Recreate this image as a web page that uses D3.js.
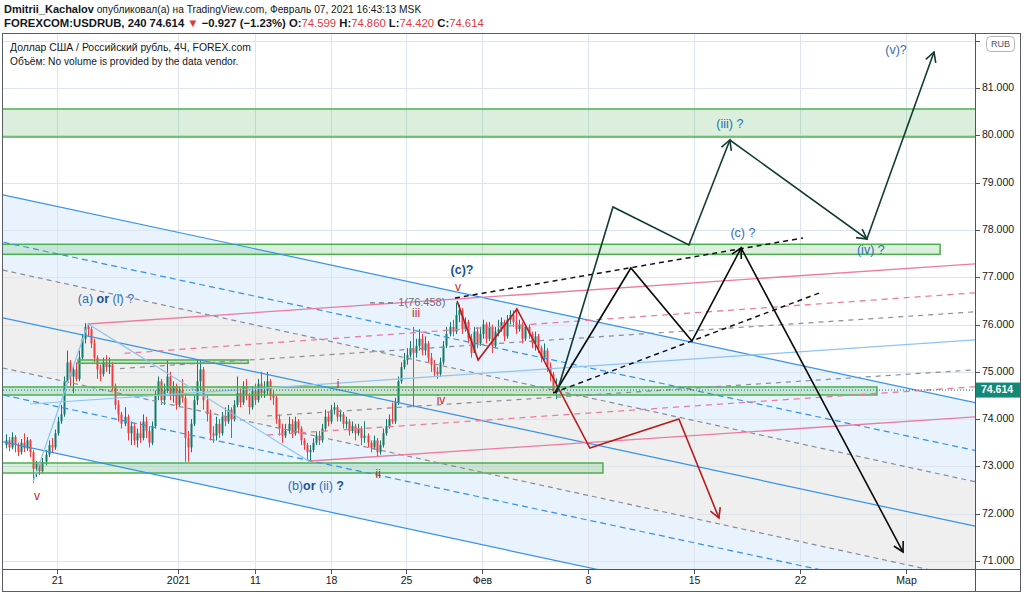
<!DOCTYPE html>
<html><head><meta charset="utf-8">
<script src="https://cdn.jsdelivr.net/npm/d3@7"></script>
<style>body{margin:0;background:#fff;overflow:hidden} svg{display:block}</style>
</head><body>
<svg id="c" width="1024" height="596"></svg>
<script>
// ---------------- DATA ----------------
// 4H candles (bar index 1..182), open of each bar = previous close
const firstOpen = 73.45;
const closes = [73.55,73.40,73.62,73.45,73.30,73.50,73.38,73.55,73.30,
72.95,73.05,72.90,
73.10,73.25,73.45,73.40,73.70,73.95,74.10,
74.80,75.20,
74.90,75.05,74.85,
75.30,75.70,75.95,75.90,
75.60,75.30,75.05,74.95,
75.20,75.10,75.15,
74.70,74.30,74.10,73.90,
74.05,73.70,73.85,73.55,73.70,73.60,73.95,73.75,73.50,73.85,
74.50,74.80,74.40,
74.60,74.90,74.50,74.70,74.30,74.60,74.45,
73.60,73.40,
73.90,74.40,74.80,75.05,
74.40,74.10,73.70,73.65,
73.90,73.70,74.05,73.95,74.20,74.00,
74.30,74.55,74.35,74.70,74.50,74.25,74.60,74.40,74.75,74.55,
74.60,74.80,74.50,74.45,
74.00,73.80,73.65,73.75,
73.90,73.70,73.95,73.80,73.55,73.45,73.30,
73.35,73.50,
73.65,73.55,73.80,74.05,73.95,74.20,74.25,
74.05,74.10,73.90,73.95,73.75,73.85,73.70,73.80,73.60,73.65,73.50,
73.40,73.55,73.30,73.45,
73.70,73.85,74.00,73.95,
74.35,74.80,75.10,75.25,75.35,
75.50,75.40,75.55,75.70,75.45,75.60,75.30,75.15,
75.00,74.95,75.20,
75.55,75.80,75.95,75.85,
76.20,76.30,
75.90,76.05,75.70,75.40,75.85,75.60,
75.80,76.00,75.70,75.95,75.55,75.85,75.90,76.05,75.75,76.10,76.20,76.05,75.90,76.00,75.70,75.95,75.80,75.60,75.75,75.50,
75.30,75.45,75.10,74.95,
74.60,74.614];
const highs = [73.68,73.62,73.72,73.66,73.50,73.58,73.70,73.62,73.58,
73.35,73.12,73.10,
73.18,73.35,73.55,73.60,73.78,74.05,74.30,
74.90,75.45,
75.25,75.15,75.20,
75.45,75.80,76.03,76.03,
75.95,75.70,75.35,75.15,
75.30,75.35,75.30,
75.20,74.75,74.40,74.15,
74.25,74.10,73.95,73.90,73.80,73.95,74.10,74.05,73.85,73.95,
74.60,74.90,74.85,
74.75,75.25,75.00,74.80,74.75,74.70,74.85,
74.55,73.75,
74.00,74.50,75.25,75.25,
75.10,74.50,74.20,73.85,
74.05,74.00,74.15,74.25,74.30,74.25,
74.40,74.90,74.65,74.80,74.85,74.55,74.70,74.75,74.85,75.00,
74.80,75.00,74.85,74.60,
74.50,74.10,73.90,73.90,
74.05,74.00,74.05,74.00,73.85,73.60,73.50,
73.45,73.60,
73.75,73.75,73.90,74.20,74.15,74.30,74.35,
74.30,74.20,74.15,74.05,74.00,73.95,73.90,73.90,73.85,73.95,73.70,
73.55,73.65,73.60,73.55,
73.80,74.00,74.10,74.35,
74.45,74.90,75.20,75.40,75.50,
75.65,75.95,75.70,75.90,75.80,75.75,75.65,75.40,
75.25,75.10,75.30,
75.65,75.95,76.05,76.10,
76.46,76.42,
76.35,76.15,76.10,75.80,75.95,75.95,
75.95,76.10,76.05,76.05,76.00,75.95,76.10,76.15,76.10,76.20,76.30,76.30,76.35,76.10,76.05,76.00,76.00,75.85,75.85,75.80,
75.55,75.60,75.50,75.20,
75.00,74.86];
const lows = [73.38,73.32,73.36,73.30,73.22,73.25,73.30,73.33,73.20,
72.65,72.78,72.82,
72.85,73.02,73.20,73.30,73.35,73.65,73.90,
74.05,74.75,
74.70,74.55,74.80,
74.80,75.25,75.60,75.75,
75.50,75.20,74.85,74.80,
74.90,75.00,74.95,
74.60,74.20,73.95,73.80,
73.85,73.55,73.45,73.45,73.40,73.50,73.55,73.60,73.40,73.45,
73.80,74.40,74.30,
74.30,74.55,74.40,74.35,74.20,74.25,74.35,
73.10,73.10,
73.30,73.85,74.30,74.60,
74.20,73.95,73.55,73.50,
73.55,73.60,73.65,73.85,73.90,73.60,
73.95,74.25,74.25,74.30,74.40,74.10,74.20,74.30,74.35,74.45,
74.45,74.50,74.40,74.30,
73.90,73.65,73.50,73.60,
73.70,73.60,73.65,73.70,73.45,73.35,73.15,
73.10,73.30,
73.45,73.45,73.50,73.75,73.85,73.90,74.10,
73.95,73.95,73.80,73.80,73.65,73.70,73.55,73.65,73.45,73.50,73.40,
73.30,73.35,73.20,73.25,
73.40,73.65,73.80,73.90,
73.90,74.30,74.75,75.05,75.15,
75.30,74.25,75.30,75.45,75.35,75.35,75.20,75.00,
74.90,74.85,74.90,
75.15,75.50,75.75,75.75,
75.80,76.05,
75.80,75.85,75.60,75.30,75.50,75.50,
75.55,75.70,75.60,75.65,75.40,75.50,75.75,75.85,75.65,75.70,76.00,75.95,75.80,75.85,75.60,75.65,75.70,75.50,75.45,75.40,
75.20,75.25,75.00,74.80,
74.55,74.42];
const lastPrice = 74.614;

// axes
const priceTicks = [71,72,73,74,75,76,77,78,79,80,81];
const priceGridExtra = [82];
const timeTickLabels = ["21","2021","11","18","25","Фев","8","15","22","Мар"];
const timeTickBars = [17.8,57.6,83.0,108.0,132.7,157.7,192.6,227.5,262.4,297.3];

// drawings: points are [barIndex, price]
const blueChannel = [
  [[0,78.74],[319,74.36]],
  [[0,77.74],[319,73.35]],
  [[0,76.14],[319,71.75]],
  [[0,74.51],[319,70.13]],
  [[0,73.52],[319,69.12]]
];
const grayChannel = [
  [[0,77.15],[319,72.69]],
  [[0,75.08],[319,70.62]]
];
const pinkSolid = [
  [[28.0,76.011],[319,77.279]],
  [[101.1,73.114],[319,74.044]]
];
const pinkDashed = [
  [[40.0,75.39],[319,76.666]],
  [[86.9,73.664],[319,74.679]]
];
const grayRising = [
  [[38.5,75.068],[319,76.264]],
  [[86.9,74.066],[319,75.038]]
];
const lightBlueRising = [[8.9,74.319],[319,75.672]];
const lightBlueWave = [[9.9,72.67],[28.0,76.011],[101.1,73.093]];
const blackDashed = [
  [[148.8,76.56],[263.4,77.829]],
  [[181.1,74.552],[269.6,76.687]]
];
const pathA = [[182.4,74.573],[200.8,78.484],[225.8,77.681],[239.3,79.901],[284.4,77.808],[306.5,81.761]];
const pathAArrows = [3,4,5];
const pathB = [[181.7,74.552],[206.7,77.195],[226.8,75.651],[243.0,77.617],[296.3,71.19]];
const pathBArrows = [3,4];
const pathC = [[149.5,76.497],[156.4,75.249],[169.2,76.328],[193.2,73.389],[222.5,74.002],[235.7,71.909]];
const pathCArrows = [5];
// zones: [fromBar, toBar, topPrice, bottomPrice]
const zones = [
  [-2,322,80.556,79.964],
  [-2,308.5,77.696,77.484],
  [24.7,80.7,75.25,75.18],
  [-2,287.7,74.679,74.51],
  [-2,197.5,73.072,72.86]
];
const fibLevel = {from:120.8, to:129.8, price:76.458, text:"1(76.458)"};
// wave labels: [text parts, bar, price]
const blueLabels = [
  [[["(a) ",400],["or",700],[" (i) ?",400]],33.9,76.518],
  [[["(b)",400],["or",700],[" (ii) ",400],["?",700]],103.0,72.564],
  [[["(c)?",700]],151.1,77.13],
  [[["(iii) ?",400]],239.3,80.218],
  [[["(c) ?",400]],243.6,77.913],
  [[["(iv) ?",400]],285.7,77.554],
  [[["(v)?",400]],294.0,81.782]
];
const redLabels = [["v",11.2,72.353],["i",110.3,74.721],["ii",123.5,72.818],["iii",136.0,76.222],["iv",144.2,74.383],["v",149.8,76.772]];

// ---------------- DRAW ----------------
const svg = d3.select("#c");
const P = {l:3, r:975, t:34, b:569};
const x = d3.scaleLinear().domain([0,319]).range([3,972]);
const y = d3.scaleLinear().domain([71,81]).range([561,88]);
const FONT = "'Liberation Sans', Arial, sans-serif";

svg.append("rect").attr("width",1024).attr("height",596).attr("fill","#fff");
svg.append("defs").append("clipPath").attr("id","pc").append("rect")
  .attr("x",P.l).attr("y",P.t).attr("width",P.r-P.l).attr("height",P.b-P.t);
const g = svg.append("g").attr("clip-path","url(#pc)");

function at(seg, i){ const [a,b]=seg; return a[1]+(b[1]-a[1])*(i-a[0])/(b[0]-a[0]); }
function extended(seg, i0, i1){ return [[i0,at(seg,i0)],[i1,at(seg,i1)]]; }
const line = d3.line().x(d=>x(d[0])).y(d=>y(d[1]));

// channel fills
{
  const U = extended(blueChannel[0],-3,325), L = extended(blueChannel[4],-3,325);
  g.append("path").attr("d", line(U.concat(L.slice().reverse()))+"Z").attr("fill","#e8f3fd");
  const A = extended(grayChannel[0],-3,325), B = extended(grayChannel[1],-3,325);
  g.append("path").attr("d", line(A.concat(B.slice().reverse()))+"Z").attr("fill","#efefef");
}
// grid
priceTicks.concat(priceGridExtra).forEach(p=>{
  g.append("line").attr("x1",P.l).attr("x2",P.r).attr("y1",Math.round(y(p))+0.5).attr("y2",Math.round(y(p))+0.5)
   .attr("stroke","#dde4ec").attr("stroke-width",1);
});
timeTickBars.forEach(b=>{
  g.append("line").attr("y1",P.t).attr("y2",P.b).attr("x1",Math.round(x(b))+0.5).attr("x2",Math.round(x(b))+0.5)
   .attr("stroke","#dde4ec").attr("stroke-width",1);
});

// candles
const UP="#127a68", DN="#f23a3f";
closes.forEach((c,k)=>{
  const i=k+1, o = k===0?firstOpen:closes[k-1];
  const h=Math.max(highs[k],o,c), l=Math.min(lows[k],o,c);
  const col = c>=o?UP:DN;
  const xc = Math.round(x(i));
  g.append("rect").attr("x",xc).attr("width",1).attr("y",y(h)).attr("height",Math.max(1,y(l)-y(h))).attr("fill",col);
  const top=y(Math.max(o,c)), bot=y(Math.min(o,c));
  g.append("rect").attr("x",xc-0.5).attr("width",2).attr("y",top).attr("height",Math.max(1,bot-top)).attr("fill",col);
});

// zones
zones.forEach(z=>{
  g.append("rect").attr("x",x(z[0])).attr("width",x(z[1])-x(z[0])).attr("y",y(z[2])).attr("height",y(z[3])-y(z[2]))
   .attr("fill","rgba(76,175,80,0.2)").attr("stroke","#4caf50").attr("stroke-width",1.5);
});

function drawSeg(pts, color, w, dash){
  g.append("path").attr("d",line(pts)).attr("fill","none").attr("stroke",color).attr("stroke-width",w)
   .attr("stroke-dasharray",dash||null);
}
// blue channel lines
blueChannel.forEach((s,k)=>{
  drawSeg(extended(s,-3,325), "#3592e6", 1.2, k%2===1?"6,4":null);
});
grayChannel.forEach(s=>drawSeg(extended(s,-3,325), "#8a8d96", 1.2, "5,4"));
pinkSolid.forEach(s=>drawSeg(extended(s,s[0][0],325), "#ee7aa0", 1.3, null));
pinkDashed.forEach(s=>drawSeg(extended(s,s[0][0],325), "#ee7aa0", 1.3, "6,5"));
grayRising.forEach(s=>drawSeg(extended(s,s[0][0],325), "#8a8d96", 1.2, "5,5"));
drawSeg(extended(lightBlueRising,lightBlueRising[0][0],325), "#8cc4f2", 1.2, null);
drawSeg(lightBlueWave, "#8cc4f2", 1.2, null);
blackDashed.forEach(s=>drawSeg(s, "#111", 1.5, "5,4"));

// last price dotted line
g.append("line").attr("x1",P.l).attr("x2",P.r).attr("y1",y(lastPrice)).attr("y2",y(lastPrice))
 .attr("stroke","#1f6f63").attr("stroke-width",1).attr("stroke-dasharray","1,2");

// fib level
drawSeg([[fibLevel.from,fibLevel.price],[fibLevel.to,fibLevel.price]], "#6b6e78", 1.2, "5,4");
g.append("text").attr("x",x(fibLevel.to)+1).attr("y",y(fibLevel.price)).attr("dominant-baseline","middle")
 .style("font","11px "+FONT).attr("fill","#6b6e78").text(fibLevel.text);

// wave paths with arrows
function arrowPath(pts, arrows, color){
  g.append("path").attr("d",line(pts)).attr("fill","none").attr("stroke",color).attr("stroke-width",1.6)
   .attr("stroke-linejoin","miter");
  arrows.forEach(k=>{
    const tx=x(pts[k][0]), ty=y(pts[k][1]), px=x(pts[k-1][0]), py=y(pts[k-1][1]);
    const a=Math.atan2(ty-py,tx-px), L=11, s=0.5;
    const w1=[tx-L*Math.cos(a-s), ty-L*Math.sin(a-s)], w2=[tx-L*Math.cos(a+s), ty-L*Math.sin(a+s)];
    g.append("path").attr("d",`M${w1[0]},${w1[1]}L${tx},${ty}L${w2[0]},${w2[1]}`)
     .attr("fill","none").attr("stroke",color).attr("stroke-width",1.6);
  });
}
arrowPath(pathC, pathCArrows, "#b71c1c");
arrowPath(pathB, pathBArrows, "#0b0b0b");
arrowPath(pathA, pathAArrows, "#123b31");

// labels
blueLabels.forEach(([parts,b,p])=>{
  const t=g.append("text").attr("x",x(b)).attr("y",y(p)).attr("text-anchor","middle").attr("dominant-baseline","middle")
   .style("font","12.5px "+FONT).attr("fill","#2c6cbd");
  parts.forEach(([s,w])=>t.append("tspan").attr("font-weight",w).attr("fill",w>=700?"#1d4f96":null).text(s));
});
redLabels.forEach(([s,b,p])=>{
  g.append("text").attr("x",x(b)).attr("y",y(p)).attr("text-anchor","middle").attr("dominant-baseline","middle")
   .style("font","12px "+FONT).attr("fill","#c62828").text(s);
});

// legend
svg.append("text").attr("x",10).attr("y",51).style("font","10.4px "+FONT).attr("fill","#131722")
  .text("Доллар США / Российский рубль, 4Ч, FOREX.com");
svg.append("text").attr("x",10).attr("y",65).style("font","10.2px "+FONT).attr("fill","#131722")
  .text("Объём: No volume is provided by the data vendor.");

// axes
const AX="#50535e";
svg.append("line").attr("x1",975.5).attr("x2",975.5).attr("y1",33).attr("y2",591).attr("stroke",AX);
svg.append("line").attr("x1",3).attr("x2",1020).attr("y1",569.5).attr("y2",569.5).attr("stroke",AX);
priceTicks.forEach(p=>{
  const yy=Math.round(y(p))+0.5;
  svg.append("line").attr("x1",976).attr("x2",980).attr("y1",yy).attr("y2",yy).attr("stroke",AX);
  svg.append("text").attr("x",982).attr("y",yy).attr("dominant-baseline","middle").style("font","10.5px "+FONT)
    .attr("fill","#131722").text(d3.format(".3f")(p));
});
{
  const yy=Math.round(y(82))+0.5;
  svg.append("line").attr("x1",976).attr("x2",980).attr("y1",yy).attr("y2",yy).attr("stroke",AX);
  svg.append("rect").attr("x",986.5).attr("y",36.5).attr("width",28).attr("height",15).attr("rx",4)
    .attr("fill","#fff").attr("stroke","#b2b5be");
  svg.append("text").attr("x",1000.5).attr("y",44.5).attr("text-anchor","middle").attr("dominant-baseline","middle")
    .style("font","9px "+FONT).attr("fill","#50535e").text("RUB");
}
// last price label
svg.append("rect").attr("x",976).attr("y",y(lastPrice)-7.5).attr("width",44).attr("height",15).attr("fill","#138a78");
svg.append("text").attr("x",981).attr("y",y(lastPrice)+0.5).attr("dominant-baseline","middle").style("font","bold 10.5px "+FONT)
  .attr("fill","#fff").text(d3.format(".3f")(lastPrice));
timeTickBars.forEach((b,k)=>{
  const xx=Math.round(x(b))+0.5;
  svg.append("line").attr("x1",xx).attr("x2",xx).attr("y1",570).attr("y2",574).attr("stroke",AX);
  svg.append("text").attr("x",xx).attr("y",584).attr("text-anchor","middle").style("font","10.5px "+FONT)
    .attr("fill","#131722").text(timeTickLabels[k]);
});
// frame
svg.append("rect").attr("x",2.5).attr("y",33.5).attr("width",1018).attr("height",558).attr("fill","none").attr("stroke","#5a5d66");

// header
const h1=svg.append("text").attr("x",4).attr("y",13).style("font","10.2px "+FONT).attr("fill","#131722");
h1.append("tspan").attr("font-weight","bold").style("font-size","11px").text("Dmitrii_Kachalov");
h1.append("tspan").text(" опубликовал(а) на TradingView.com, Февраль 07, 2021 16:43:13 MSK");
const h2=svg.append("text").attr("x",4).attr("y",27).style("font","bold 11.3px "+FONT).attr("fill","#131722");
[["FOREXCOM:USDRUB, 240  74.614 ",null],["▼","#e0383e"],[" −0.927 (−1.23%) O:",null],["74.599","#e0383e"],[" H:",null],["74.860","#e0383e"],
 [" L:",null],["74.420","#e0383e"],[" C:",null],["74.614","#e0383e"]].forEach(([s,c])=>{
  const t=h2.append("tspan").text(s); if(c) t.attr("fill",c).attr("font-weight","normal");
});
</script>
</body></html>
